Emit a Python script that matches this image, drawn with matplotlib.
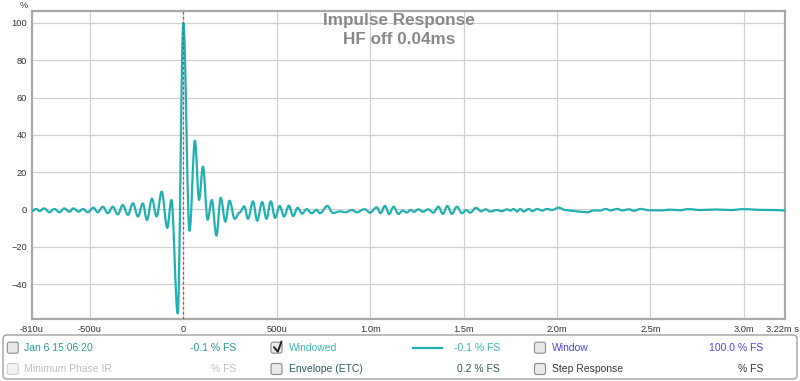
import numpy as np
import matplotlib.pyplot as plt
from matplotlib.patches import FancyBboxPatch, PathPatch
from matplotlib.path import Path

plt.rcParams['font.family'] = ['Liberation Sans', 'DejaVu Sans']

# ---------- data (time in microseconds, amplitude in %) ----------
t_us = [
    -810, -788, -770, -744, -717, -690, -663, -637, -610, -588,
    -560, -538, -512, -481, -458, -431, -404, -378, -351, -324,
    -297, -270, -243, -217, -195, -168, -143, -116, -86, -64,
    -30, 0, 33, 62, 84, 105, 130, 152, 177, 200,
    225, 247, 275, 302, 326, 346, 373, 395, 422, 445,
    468, 491, 516, 539, 565, 588, 611, 636, 660, 686,
    713, 731, 771, 801, 838, 868, 901, 928, 970, 999,
    1035, 1055, 1079, 1102, 1125, 1151, 1174, 1195, 1216, 1235,
    1258, 1283, 1310, 1338, 1365, 1389, 1413, 1437, 1464, 1491,
    1514, 1535, 1567, 1594, 1618, 1642, 1678, 1705, 1732, 1750,
    1767, 1786, 1803, 1822, 1848, 1868, 1893, 1920, 1946, 1973,
    2009, 2045, 2089, 2125, 2161, 2196, 2232, 2259, 2286, 2322,
    2349, 2384, 2411, 2447, 2491, 2554, 2608, 2661, 2699, 2768,
    2849, 2929, 2999, 3090, 3171, 3220,
]
pct = [
    -0.8, 0.3, -0.8, 0.6, -1.5, 0.3, -1.5, 0.6, -1.2, 0.6,
    -1.2, 0.3, -1.5, 1.0, -1.5, 1.5, -2.0, 1.5, -2.6, 2.4,
    -2.9, 3.3, -3.8, 3.3, -5.6, 5.8, -3.8, 9.6, -9.8, 5.1,
    -55.7, 100.0, -11.4, 36.9, 5.1, 23.0, -5.5, 5.1, -14.0, 6.3,
    -6.5, 4.7, -5.0, -1.5, 1.7, -5.0, 4.4, -6.0, 4.0, -5.0,
    4.4, -4.5, 1.9, -3.8, 2.0, -3.6, 0.9, -2.2, 0.2, -2.0,
    -0.2, -2.0, 1.9, -1.9, -1.0, -1.5, -0.3, -1.5, 0.2, -1.7,
    1.2, -2.0, 1.9, -2.4, 1.5, -2.4, -0.6, -1.6, -0.3, -1.2,
    0.1, -1.2, 0.1, -1.7, 1.5, -2.4, 1.9, -2.4, 1.5, -2.0,
    -0.3, -1.7, 0.9, -1.0, 0.1, -1.1, -0.3, -0.9, 0.1, -0.6,
    0.3, -1.1, 0.3, -1.1, 0.3, -0.9, 0.3, -0.6, 0.3, -0.3,
    1.0, -0.3, -0.8, -1.2, -1.5, -0.5, -0.6, 0.3, -0.5, 0.3,
    -0.5, 0.1, -0.7, 0.3, -0.4, -0.5, -0.1, -0.4, 0.2, -0.3,
    0.0, -0.3, 0.2, -0.2, -0.3, -0.6,
]

xticks = [-0.81, -0.5, 0, 0.5, 1.0, 1.5, 2.0, 2.5, 3.0]
xlabels = ['-810u', '-500u', '0', '500u', '1.0m', '1.5m', '2.0m', '2.5m', '3.0m']
yticks = [-40, -20, 0, 20, 40, 60, 80, 100]

TEAL = '#22b0b0'
W, H = 800, 381

fig = plt.figure(figsize=(W / 100, H / 100), dpi=100)
ax = fig.add_axes([32 / W, 1 - 319 / H, (785 - 32) / W, (319 - 11) / H])

# smooth trace: cubic segments with flat tangents at each read-off point
t_ms = np.array(t_us) / 1000.0
verts = [(t_ms[0], pct[0])]
codes = [Path.MOVETO]
for i in range(1, len(t_ms)):
    dt = t_ms[i] - t_ms[i - 1]
    verts += [(t_ms[i - 1] + 0.36 * dt, pct[i - 1]),
              (t_ms[i] - 0.36 * dt, pct[i]),
              (t_ms[i], pct[i])]
    codes += [Path.CURVE4] * 3
ax.add_patch(PathPatch(Path(verts, codes), fill=False, ec=TEAL, lw=1.6,
                       zorder=3, joinstyle='round'))
ax.axvline(0, color='#f03030', lw=0.9, ls=(0, (2, 2)), zorder=4)

ax.set_xlim(-0.81, 3.22)
ax.set_ylim(-58.7, 106.4)
ax.set_xticks(xticks)
ax.set_xticklabels(xlabels)
ax.set_yticks(yticks)
ax.grid(color='#d0d0d0', lw=0.9, zorder=0)
ax.tick_params(length=0, labelsize=6.7, colors='#333333')
ax.tick_params(axis='y', pad=3.4)
ax.tick_params(axis='x', pad=4.3)
for sp in ax.spines.values():
    sp.set_color('#a8a8a8')
    sp.set_linewidth(1.6)

# title inside plot
fig.text(399 / W, 1 - 20 / H, 'Impulse Response', ha='center', va='center',
         fontsize=12.3, fontweight='bold', color='#888888')
fig.text(399 / W, 1 - 40 / H, 'HF off 0.04ms', ha='center', va='center',
         fontsize=12.3, fontweight='bold', color='#888888')
fig.text(24 / W, 1 - 5 / H, '%', ha='center', va='center', fontsize=6.7, color='#333333')
fig.text(766 / W, 1 - 329 / H, '3.22m s', ha='left', va='center', fontsize=6.7, color='#333333')

# ---------- legend panel (pixel coordinates) ----------
ui = fig.add_axes([0, 0, 1, 1])
ui.set_xlim(0, W)
ui.set_ylim(H, 0)
ui.axis('off')

ui.add_patch(FancyBboxPatch((3, 335), 794, 44, boxstyle='round,pad=0,rounding_size=4',
                            fc='white', ec='#a0a0a0', lw=1))


def checkbox(x, y, enabled=True):
    ec = '#8a8a8a' if enabled else '#d0d0d0'
    fc = '#e9e9e9' if enabled else '#f2f2f2'
    ui.add_patch(FancyBboxPatch((x, y - 5.5), 11, 11, boxstyle='round,pad=0,rounding_size=2',
                                fc=fc, ec=ec, lw=0.8))


rows = [347.7, 369]
fs = 7.5
checkbox(7.3, rows[0])
checkbox(7.3, rows[1], enabled=False)
checkbox(271, rows[0])
checkbox(271, rows[1])
checkbox(534.5, rows[0])
checkbox(534.5, rows[1])
ui.plot([274, 277.8, 281.5], [347.2, 351.7, 341.5], color='#222222', lw=1.4,
        solid_capstyle='round', solid_joinstyle='round')

texts = [
    (24, rows[0], 'Jan 6 15:06:20', 'left', '#2a9a9a'),
    (236, rows[0], '-0.1 % FS', 'right', '#2a9a9a'),
    (288.7, rows[0], 'Windowed', 'left', '#3cb4b4'),
    (500, rows[0], '-0.1 % FS', 'right', '#3cb4b4'),
    (552.3, rows[0], 'Window', 'left', '#4a4ad8'),
    (763.3, rows[0], '100.0 % FS', 'right', '#4a4ad8'),
    (24, rows[1], 'Minimum Phase IR', 'left', '#bdbdbd'),
    (236, rows[1], '% FS', 'right', '#bdbdbd'),
    (288.7, rows[1], 'Envelope (ETC)', 'left', '#2d5b5b'),
    (500, rows[1], '0.2 % FS', 'right', '#2d5b5b'),
    (552.3, rows[1], 'Step Response', 'left', '#3a3a3a'),
    (763.3, rows[1], '% FS', 'right', '#3a3a3a'),
]
for x, y, s, ha, c in texts:
    ui.text(x, y, s, ha=ha, va='center', fontsize=fs, color=c)

ui.plot([413.3, 441.7], [347.7, 347.7], color=TEAL, lw=1.6)

fig.savefig('out.png', dpi=100)
